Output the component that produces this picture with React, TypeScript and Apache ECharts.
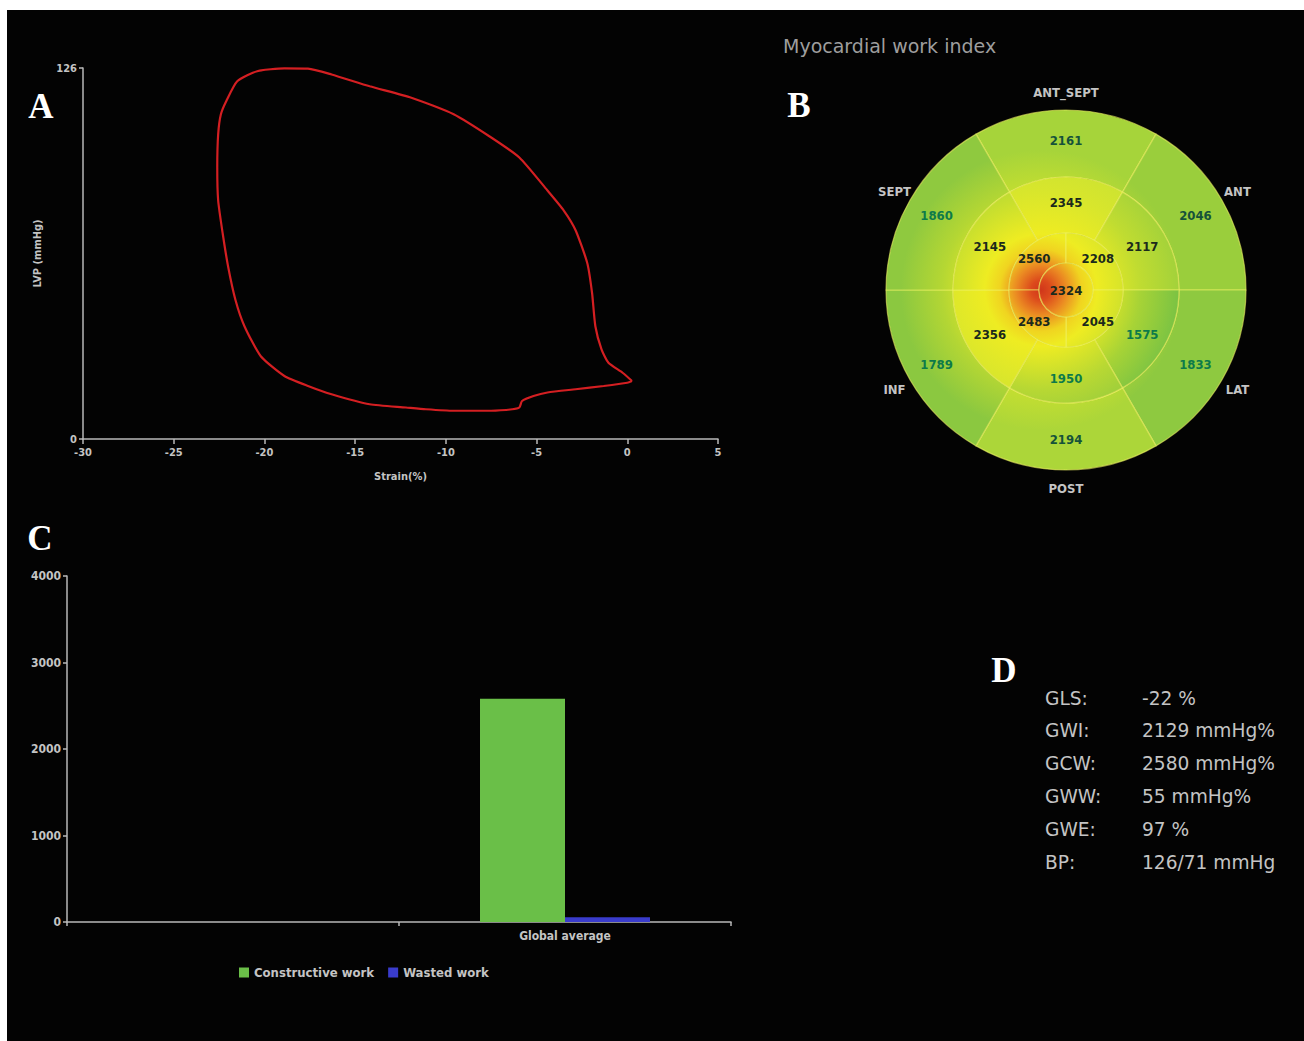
import React, { useEffect, useRef } from "react";
import * as echarts from "echarts";

// ---------- Panel A: pressure-strain loop ----------
const strain = [
  0.26, -0.26, -1.04, -1.42, -1.76, -1.94, -2.2, -2.85, -3.5, -4.4, -5.95, -7.5, -9.57, -11.9, -14.2,
  -16.3, -17.6, -18.9, -20.4, -21.5, -22.1, -22.4, -22.55, -22.6, -22.55, -22.3, -22.0, -21.6, -21.1,
  -20.2, -18.9, -17.6, -16.3, -14.2, -12.2, -11.1, -9.57, -7.5, -6.34, -5.95, -5.8, -5.17, -4.4, -2.85,
  -1.3, 0.0, 0.26,
];
const lvp = [
  19.7, 22.5, 25.9, 30.4, 38.3, 49.5, 59.6, 70.9, 77.6, 84.4, 95.6, 102.4, 110.3, 115.9, 119.8,
  123.8, 125.8, 125.9, 124.9, 121.5, 114.8, 110.3, 103.5, 92.3, 81, 69.8, 58.5, 47.3, 38.3,
  28.1, 21.4, 18, 15.2, 11.8, 10.7, 10.1, 9.6, 9.6, 10.1, 10.7, 12.9, 14.6, 15.8, 16.9,
  18, 19.1, 19.7,
];
const strainRange = [-30, 5];
const lvpRange = [0, 126];

// ---------- Panel B: bullseye ----------
const segmentNames = ["ANT_SEPT", "ANT", "LAT", "POST", "INF", "SEPT"];
const segmentAngles = [90, 30, -30, -90, -150, 150];
const basalValues = [2161, 2046, 1833, 2194, 1789, 1860];
const midValues = [2345, 2117, 1575, 1950, 2356, 2145];
const apicalValues = [2560, 2208, 2045, 2483];
const apexValues = [2324];
const bullseyeTitle = "Myocardial work index";

// ---------- Panel C: bars ----------
const barCategories = ["", "Global average"];
const seriesNames = ["Constructive work", "Wasted work"];
const constructiveWork = [null, 2580];
const wastedWork = [null, 55];

// ---------- Panel D: summary ----------
const summaryKeys = ["GLS:", "GWI:", "GCW:", "GWW:", "GWE:", "BP:"];
const summaryValues = ["-22 %", "2129 mmHg%", "2580 mmHg%", "55 mmHg%", "97 %", "126/71 mmHg"];
const panelLetters = ["A", "B", "C", "D"];

// ---------- styling helpers ----------
const COND = "'DejaVu Sans Condensed', 'Liberation Sans Narrow', Roboto, 'DejaVu Sans', sans-serif";
const AXIS_COLOR = "#b9b9b9";
const TEXT_COLOR = "#c4c4c4";
const CX = 1059;
const CY = 280;
const HOT_X = 1034;
const HOT_Y = 280;

const workStops: [number, string][] = [
  [1575, "#78c244"],
  [1800, "#8cc840"],
  [2000, "#96cc3d"],
  [2150, "#a4d33a"],
  [2300, "#c0de35"],
  [2400, "#d4e630"],
  [2600, "#e2ea2c"],
];

function hexToRgb(h: string) {
  return [parseInt(h.slice(1, 3), 16), parseInt(h.slice(3, 5), 16), parseInt(h.slice(5, 7), 16)];
}
function mix(a: string, b: string, t: number) {
  const x = hexToRgb(a);
  const y = hexToRgb(b);
  const c = x.map((v, i) => Math.round(v + (y[i] - v) * t));
  return "#" + c.map((v) => v.toString(16).padStart(2, "0")).join("");
}
function workColor(v: number) {
  if (v <= workStops[0][0]) return workStops[0][1];
  for (let i = 1; i < workStops.length; i++) {
    if (v <= workStops[i][0]) {
      const [v0, c0] = workStops[i - 1];
      const [v1, c1] = workStops[i];
      return mix(c0, c1, (v - v0) / (v1 - v0));
    }
  }
  return workStops[workStops.length - 1][1];
}
function segmentFill(v: number) {
  const base = workColor(v);
  return {
    type: "radial",
    x: HOT_X,
    y: HOT_Y,
    r: 165,
    global: true,
    colorStops: [
      { offset: 0, color: "#d0361a" },
      { offset: 0.06, color: "#dc4a1c" },
      { offset: 0.15, color: "#eb8a22" },
      { offset: 0.25, color: "#f0d420" },
      { offset: 0.34, color: "#eeec22" },
      { offset: 0.6, color: mix("#eeec22", base, 0.6) },
      { offset: 0.85, color: base },
      { offset: 1, color: base },
    ],
  };
}

function labelColor(v: number, basal: boolean) {
  if (v < 2000) return "#0d7a4a";
  if (basal) return "#15523a";
  return "#1b2a1c";
}

function ring(values: number[], radius: [number, number], startAngle: number, pos: string, basal: boolean) {
  return {
    type: "pie",
    center: [CX, CY],
    radius,
    startAngle,
    clockwise: true,
    silent: true,
    avoidLabelOverlap: false,
    legendHoverLink: false,
    label: {
      show: true,
      position: pos,
      formatter: (p: any) => String(values[p.dataIndex]),
      fontSize: 13,
      fontWeight: "bold",
      fontFamily: COND,
    },
    labelLine: { show: false },
    emphasis: { disabled: true },
    data: values.map((v, i) => ({
      value: 1,
      name: "seg" + radius[0] + "_" + i,
      itemStyle: {
        color: segmentFill(v),
        borderColor: "rgba(238,242,100,0.6)",
        borderWidth: 1.2,
      },
      label: { color: labelColor(v, basal) },
    })),
  };
}

export default function App() {
  const ref = useRef<HTMLDivElement>(null);

  useEffect(() => {
    if (!ref.current) return;
    const chart = echarts.init(ref.current, null, { renderer: "svg" });

    const loopData = strain.map((s, i) => [s, lvp[i]]);

    const letterPos = [
      [34, 96],
      [792, 95],
      [33, 528],
      [997, 660],
    ];

    const graphics: any[] = [];
    panelLetters.forEach((l, i) => {
      graphics.push({
        type: "text",
        x: letterPos[i][0],
        y: letterPos[i][1],
        silent: true,
        style: {
          text: l,
          fill: "#ffffff",
          font: "bold 35px 'Liberation Serif', 'Times New Roman', serif",
          align: "center",
          verticalAlign: "middle",
        },
      });
    });
    segmentNames.forEach((n, i) => {
      const a = (segmentAngles[i] * Math.PI) / 180;
      graphics.push({
        type: "text",
        x: CX + 198 * Math.cos(a),
        y: CY - 198 * Math.sin(a),
        silent: true,
        style: {
          text: n,
          fill: TEXT_COLOR,
          font: "bold 13px " + COND,
          align: "center",
          verticalAlign: "middle",
        },
      });
    });
    summaryKeys.forEach((k, i) => {
      const y = 688 + i * 32.8;
      graphics.push({
        type: "text",
        x: 1038,
        y,
        silent: true,
        style: { text: k, fill: TEXT_COLOR, font: "18.6px 'DejaVu Sans', sans-serif", align: "left", verticalAlign: "middle" },
      });
      graphics.push({
        type: "text",
        x: 1135,
        y,
        silent: true,
        style: {
          text: summaryValues[i],
          fill: TEXT_COLOR,
          font: "18.6px 'DejaVu Sans', sans-serif",
          align: "left",
          verticalAlign: "middle",
        },
      });
    });

    const axisLabelStyle = { color: TEXT_COLOR, fontSize: 11, fontWeight: "bold", fontFamily: COND };

    chart.setOption({
      animation: false,
      backgroundColor: "#030303",
      textStyle: { fontFamily: COND },
      title: {
        text: bullseyeTitle,
        left: 771,
        top: 21,
        textStyle: { color: "#9e9e9e", fontSize: 19, fontWeight: "normal", fontFamily: "'DejaVu Sans', sans-serif" },
      },
      legend: {
        data: seriesNames,
        left: 227,
        top: 951,
        icon: "rect",
        itemWidth: 10,
        itemHeight: 10,
        itemGap: 14,
        selectedMode: false,
        textStyle: { color: TEXT_COLOR, fontSize: 13, fontWeight: "bold", fontFamily: COND },
      },
      grid: [
        { left: 76, top: 58, width: 635, height: 371 },
        { left: 60, top: 566, width: 664, height: 346 },
      ],
      xAxis: [
        {
          gridIndex: 0,
          type: "value",
          min: strainRange[0],
          max: strainRange[1],
          interval: 5,
          name: "Strain(%)",
          nameLocation: "middle",
          nameGap: 32,
          nameTextStyle: { ...axisLabelStyle },
          axisLine: { show: true, onZero: false, lineStyle: { color: AXIS_COLOR, width: 1.5 } },
          axisTick: { show: true, length: 5, lineStyle: { color: AXIS_COLOR, width: 1.5 } },
          axisLabel: { ...axisLabelStyle, margin: 8 },
          splitLine: { show: false },
        },
        {
          gridIndex: 1,
          type: "category",
          data: barCategories,
          axisLine: { show: true, lineStyle: { color: AXIS_COLOR, width: 1.5 } },
          axisTick: { show: true, length: 4, lineStyle: { color: AXIS_COLOR, width: 1.5 } },
          axisLabel: { ...axisLabelStyle, fontSize: 12, margin: 8 },
          splitLine: { show: false },
        },
      ],
      yAxis: [
        {
          gridIndex: 0,
          type: "value",
          min: lvpRange[0],
          max: lvpRange[1],
          interval: 126,
          name: "LVP (mmHg)",
          nameLocation: "middle",
          nameGap: 40,
          nameRotate: 90,
          nameTextStyle: { ...axisLabelStyle },
          axisLine: { show: true, onZero: false, lineStyle: { color: AXIS_COLOR, width: 1.5 } },
          axisTick: { show: true, length: 4, lineStyle: { color: AXIS_COLOR, width: 1.5 } },
          axisLabel: { ...axisLabelStyle, margin: 6 },
          splitLine: { show: false },
        },
        {
          gridIndex: 1,
          type: "value",
          min: 0,
          max: 4000,
          interval: 1000,
          axisLine: { show: true, onZero: false, lineStyle: { color: AXIS_COLOR, width: 1.5 } },
          axisTick: { show: true, length: 4, lineStyle: { color: AXIS_COLOR, width: 1.5 } },
          axisLabel: { ...axisLabelStyle, fontSize: 12, margin: 6, formatter: (v: number) => String(v) },
          splitLine: { show: false },
        },
      ],
      series: [
        {
          type: "line",
          xAxisIndex: 0,
          yAxisIndex: 0,
          data: loopData,
          showSymbol: false,
          smooth: 0.2,
          silent: true,
          lineStyle: { color: "#d41f22", width: 2.2 },
        },
        {
          type: "bar",
          name: seriesNames[0],
          xAxisIndex: 1,
          yAxisIndex: 1,
          data: constructiveWork,
          barWidth: 85,
          barGap: "0%",
          itemStyle: { color: "#6abf48" },
          silent: true,
        },
        {
          type: "bar",
          name: seriesNames[1],
          xAxisIndex: 1,
          yAxisIndex: 1,
          data: wastedWork,
          barWidth: 85,
          barGap: "0%",
          itemStyle: { color: "#3a3ccc" },
          silent: true,
        },
        ring(basalValues, [113, 180], 120, "inside", true),
        ring(midValues, [57, 113], 120, "inside", false),
        ring(apicalValues, [27, 57], 180, "inside", false),
        ring(apexValues, [0, 27], 90, "center", false),
      ],
      graphic: graphics,
    });

    return () => chart.dispose();
  }, []);

  return (
    <div
      ref={ref}
      style={{ position: "fixed", left: 7, top: 10, width: 1297, height: 1031 }}
    />
  );
}
